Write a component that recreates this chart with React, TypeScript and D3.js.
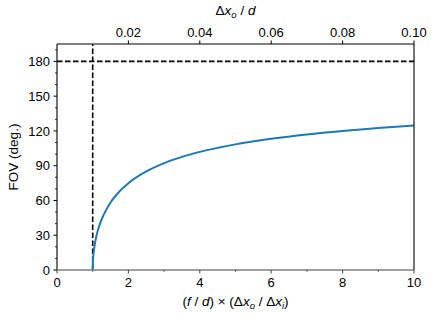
import React from "react"
import * as d3 from "d3"

// curve: ratio -> field of view (deg.)
const ratio = [1.0, 1.005, 1.01, 1.02, 1.05, 1.1, 1.2, 1.3, 1.5, 1.75, 2.0, 2.5, 3.0, 3.5, 4.0, 5.0, 6.0, 7.0, 8.0, 9.0, 10.0]
const fov = [0, 6.6, 9.3, 13.2, 20.6, 28.8, 39.6, 47.2, 58.3, 67.8, 74.9, 85, 92.2, 97.6, 101.9, 108.4, 113.2, 117, 120, 122.5, 124.7]

const xTicks = [0, 2, 4, 6, 8, 10]
const xMinor = [1, 3, 5, 7, 9]
const yTicks = [0, 30, 60, 90, 120, 150, 180]
const yMinor = [10, 20, 40, 50, 70, 80, 100, 110, 130, 140, 160, 170, 190]
const topTicks = [0.02, 0.04, 0.06, 0.08, 0.1]

const width = 436
const height = 317
const margin = {top: 44, right: 22, bottom: 47, left: 57}
const font = "'Liberation Sans', Arial, sans-serif"
const tickSize = 13
const labelSize = 13.5

const App = () => {
    const x = d3.scaleLinear().domain([0, 10]).range([margin.left, width - margin.right])
    const xTop = d3.scaleLinear().domain([0, 0.1]).range([margin.left, width - margin.right])
    const y = d3.scaleLinear().domain([0, 195]).range([height - margin.bottom, margin.top])

    const line = d3.line<number>()
        .x((_, i) => x(ratio[i]))
        .y(d => y(d))
        .curve(d3.curveMonotoneX)

    const x0 = x(0), x1 = x(10), y0 = y(0), y1 = y(195)

    return (
        <svg width={width} height={height} style={{position: "absolute", left: 0, top: 0}} fontFamily={font}>
            <rect width={width} height={height} fill="white"/>
            {/* reference lines */}
            <line x1={x(1)} x2={x(1)} y1={y0} y2={y1} stroke="black" strokeWidth={1.6} strokeDasharray="5.5,2.5"/>
            <line x1={x0} x2={x1} y1={y(180)} y2={y(180)} stroke="black" strokeWidth={1.6} strokeDasharray="5.5,2.5"/>
            <path d={line(fov) ?? ""} fill="none" stroke="#1f77b4" strokeWidth={2}/>

            {/* spines */}
            <line x1={x0} x2={x0} y1={y0} y2={y1} stroke="black" strokeWidth={1.1}/>
            <line x1={x1} x2={x1} y1={y0} y2={y1} stroke="black" strokeWidth={1.1}/>
            <line x1={x0} x2={x1} y1={y1} y2={y1} stroke="black" strokeWidth={1.1}/>
            <line x1={x0} x2={x1} y1={y0} y2={y0} stroke="#808080" strokeWidth={1.6}/>

            {/* bottom axis */}
            {xTicks.map(t => (
                <g key={"xt" + t}>
                    <line x1={x(t)} x2={x(t)} y1={y0} y2={y0 + 3.5} stroke="#444" strokeWidth={1}/>
                    <text x={x(t)} y={y0 + 17} textAnchor="middle" fontSize={tickSize}>{t}</text>
                </g>
            ))}
            {xMinor.map(t => (
                <line key={"xm" + t} x1={x(t)} x2={x(t)} y1={y0} y2={y0 + 2} stroke="#444" strokeWidth={0.8}/>
            ))}

            {/* left axis */}
            {yTicks.map(t => (
                <g key={"yt" + t}>
                    <line x1={x0} x2={x0 - 3.5} y1={y(t)} y2={y(t)} stroke="black" strokeWidth={1}/>
                    <text x={x0 - 7} y={y(t)} dy="0.36em" textAnchor="end" fontSize={tickSize}>{t}</text>
                </g>
            ))}
            {yMinor.map(t => (
                <line key={"ym" + t} x1={x0} x2={x0 - 2} y1={y(t)} y2={y(t)} stroke="black" strokeWidth={0.8}/>
            ))}

            {/* top axis */}
            {topTicks.map(t => (
                <g key={"tt" + t}>
                    <line x1={xTop(t)} x2={xTop(t)} y1={y1} y2={y1 - 3.5} stroke="black" strokeWidth={1}/>
                    <text x={xTop(t)} y={y1 - 7} textAnchor="middle" fontSize={tickSize}>{t.toFixed(2)}</text>
                </g>
            ))}

            {/* axis labels */}
            <text x={(x0 + x1) / 2} y={15} textAnchor="middle" fontSize={labelSize}>
                Δ<tspan fontStyle="italic">x</tspan>
                <tspan fontStyle="italic" fontSize={9.5} dy={2.5}>o</tspan>
                <tspan dy={-2.5}> / </tspan>
                <tspan fontStyle="italic">d</tspan>
            </text>
            <text x={(x0 + x1) / 2} y={306} textAnchor="middle" fontSize={labelSize}>
                (<tspan fontStyle="italic">f</tspan> / <tspan fontStyle="italic">d</tspan>) × (Δ<tspan fontStyle="italic">x</tspan>
                <tspan fontStyle="italic" fontSize={9.5} dy={2.5}>o</tspan>
                <tspan dy={-2.5}> / Δ</tspan>
                <tspan fontStyle="italic">x</tspan>
                <tspan fontStyle="italic" fontSize={9.5} dy={2.5}>i</tspan>
                <tspan dy={-2.5}>)</tspan>
            </text>
            <text transform={`translate(18,${(y0 + y1) / 2}) rotate(-90)`} textAnchor="middle" fontSize={labelSize}>
                FOV (deg.)
            </text>
        </svg>
    )
}

export default App
